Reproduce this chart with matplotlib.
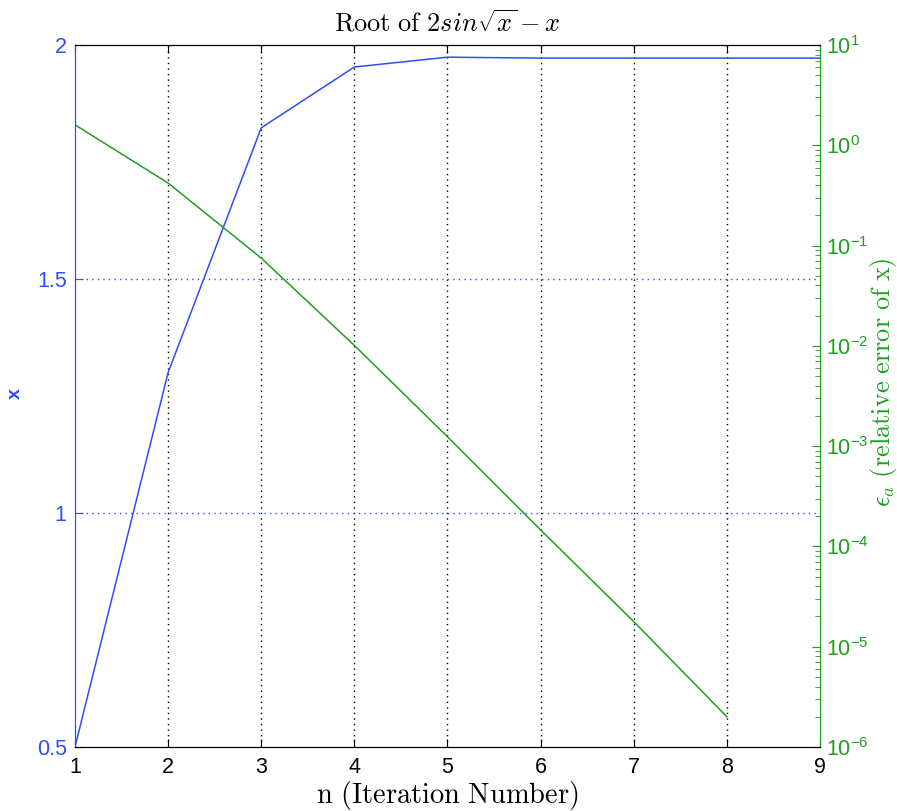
import numpy as np
import matplotlib
matplotlib.use("Agg")
import matplotlib.pyplot as plt
from matplotlib.ticker import LogLocator, NullFormatter

plt.rcParams['mathtext.fontset'] = 'cm'
plt.rcParams['font.family'] = ['Liberation Sans', 'DejaVu Sans']

# iteration data
n_iter = [1, 2, 3, 4, 5, 6, 7, 8, 9]
x_vals = [0.5, 1.30, 1.823, 1.953, 1.974, 1.972, 1.972, 1.972, 1.972]
n_err = [1, 2, 3, 4, 5, 6, 7, 8]
err_vals = [1.6, 0.42, 0.075, 0.0101, 0.00124, 1.46e-4, 1.78e-5, 2.0e-6]

blue = '#2f4ff5'
green = '#1f9f1f'

fig = plt.figure(figsize=(8.97, 8.11), dpi=100)
ax = fig.add_axes([0.0836, 0.079, 0.8305, 0.8655])
ax2 = ax.twinx()

ax.plot(n_iter, x_vals, color=blue, lw=1.1)
ax2.semilogy(n_err, err_vals, color=green, lw=1.1)

ax.set_xlim(1, 9)
ax.set_ylim(0.5, 2)
ax.set_xticks(range(1, 10))
ax.set_yticks([0.5, 1, 1.5, 2])
ax.set_yticklabels(['0.5', '1', '1.5', '2'])
ax2.set_ylim(1e-6, 1e1)
ax2.yaxis.set_major_locator(LogLocator(base=10, numticks=10))
ax2.yaxis.set_minor_locator(LogLocator(base=10, subs=np.arange(2, 10), numticks=20))
ax2.yaxis.set_minor_formatter(NullFormatter())

# grid: vertical black dotted, horizontal blue dotted
for xv in range(2, 9):
    ax.axvline(xv, color='black', ls=(0, (1, 3)), lw=1.0, zorder=0)
for yv in [1, 1.5]:
    ax.axhline(yv, color=blue, ls=(0, (1, 3)), lw=1.0, zorder=0)

ax.tick_params(axis='x', direction='in', top=True, length=6, labelsize=15.5, colors='black', pad=7)
ax.tick_params(axis='y', direction='in', length=6, labelsize=15.5, colors=blue, pad=6)
ax2.tick_params(axis='y', which='major', direction='in', length=6, labelsize=15.5, colors=green, pad=4)
ax2.tick_params(axis='y', which='minor', direction='in', length=3.5, colors=green)

for a in (ax, ax2):
    a.spines['top'].set_color('black')
    a.spines['bottom'].set_color('black')
ax.spines['left'].set_color(blue)
ax2.spines['left'].set_color(blue)
ax2.spines['right'].set_color(green)
ax.spines['right'].set_color(green)

ax.set_xlabel(r'$\mathrm{n\ (Iteration\ Number)}$', fontsize=20.5, labelpad=0)
ax.xaxis.set_label_coords(0.5, -0.046)
ax.set_ylabel('x', color=blue, fontsize=14, fontweight='bold')
ax.yaxis.set_label_coords(-0.068, 0.503)
ax2.set_ylabel(r'$\epsilon_a\ \mathrm{(relative\ error\ of\ x)}$', color=green, fontsize=19)
ax2.yaxis.set_label_coords(1.064, 0.52)
ax.set_title(r'$\mathrm{Root\ of\ }2sin\sqrt{x}-x$', fontsize=19, pad=10)

fig.savefig('out.png', dpi=100)
